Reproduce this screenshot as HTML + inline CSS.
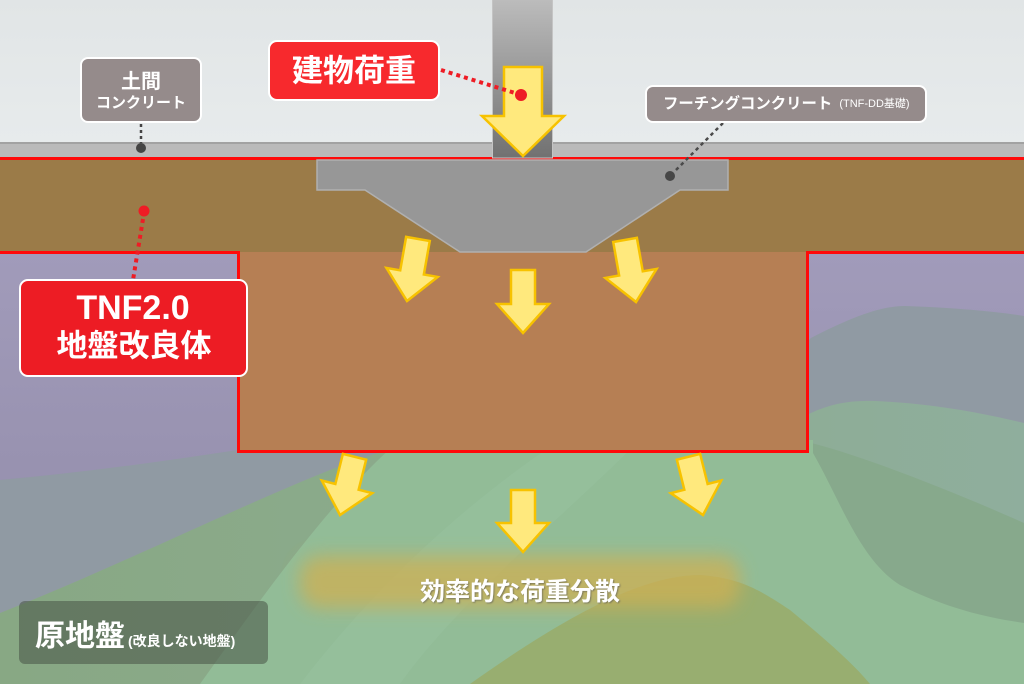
<!DOCTYPE html>
<html><head><meta charset="utf-8"><style>
html,body{margin:0;padding:0;background:#e3e7e8;}
svg{display:block;}
text{font-family:"Liberation Sans","Noto Sans CJK JP",sans-serif;font-weight:bold;}
</style></head><body>
<svg width="1024" height="684" viewBox="0 0 1024 684" xmlns="http://www.w3.org/2000/svg">
<defs>
<linearGradient id="sky" x1="0" y1="0" x2="0" y2="1"><stop offset="0" stop-color="#e1e5e6"/><stop offset="1" stop-color="#e7ebec"/></linearGradient>
<linearGradient id="col" x1="0" y1="0" x2="0" y2="1"><stop offset="0" stop-color="#bcbcbc"/><stop offset="1" stop-color="#717171"/></linearGradient>
<linearGradient id="purp" x1="0" y1="0" x2="0" y2="1"><stop offset="0" stop-color="#a19bba"/><stop offset="1" stop-color="#8f89a6"/></linearGradient>
<linearGradient id="l3" x1="0" y1="0" x2="1" y2="0"><stop offset="0" stop-color="#88a884"/><stop offset="0.5" stop-color="#8cab8e"/><stop offset="1" stop-color="#8fae9d"/></linearGradient>
<filter id="blur" x="-20%" y="-50%" width="140%" height="200%"><feGaussianBlur stdDeviation="9"/></filter>
<filter id="tsh" x="-10%" y="-30%" width="120%" height="160%"><feDropShadow dx="1" dy="1" stdDeviation="0.8" flood-color="#555" flood-opacity="0.6"/></filter>
</defs>

<rect x="0" y="0" width="1024" height="142" fill="url(#sky)"/>
<rect x="0" y="142" width="1024" height="15" fill="#bababa"/>
<rect x="0" y="142" width="1024" height="2" fill="#a2a2a2"/>
<rect x="0" y="157" width="1024" height="3" fill="#ff0a0a"/>
<rect x="0" y="160" width="1024" height="93" fill="#9b7b48"/>

<rect x="0" y="253" width="1024" height="431" fill="url(#purp)"/>
<path d="M0,480 C90,472 190,458 300,440 L760,440 C790,420 800,345 811,338 C850,318 880,306 905,306 C960,308 1000,312 1024,316 L1024,684 L0,684 Z" fill="#909aa3"/>
<path d="M0,613 C110,570 230,510 330,470 C370,455 400,445 430,440 L790,440 C800,425 805,415 811,413 C830,404 850,400 875,401 C940,404 990,415 1024,423 L1024,684 L0,684 Z" fill="url(#l3)"/>
<path d="M811,443 C860,455 950,490 1024,523 L1024,684 L811,684 Z" fill="#87a98c"/>
<path d="M400,440 L813,440 L813,453 C840,500 860,560 900,585 C950,610 990,618 1024,623 L1024,684 L200,684 C260,600 330,500 400,440 Z" fill="#92bc97"/>
<path d="M300,684 C380,580 470,500 560,440 L640,440 C560,520 460,600 400,684 Z" fill="#98c29f" opacity="0.5"/>
<path d="M470,684 C560,620 640,575 700,575 C740,578 760,590 790,610 C820,635 850,660 870,684 Z" fill="#98ae70"/>
<rect x="300" y="556" width="440" height="52" rx="20" fill="#cfb052" opacity="0.75" filter="url(#blur)"/>

<rect x="237" y="252" width="572" height="201" fill="#b67f54"/>
<path d="M0,252.5 L238.5,252.5 L238.5,451.5 L807.5,451.5 L807.5,252.5 L1024,252.5" fill="none" stroke="#ff0a0a" stroke-width="3"/>

<path d="M317,160 L728,160 L728,190 L680,190 L586,252 L460,252 L365,190 L317,190 Z" fill="#979797" stroke="#b0b0b0" stroke-width="1.5"/>
<rect x="492" y="0" width="61" height="158" fill="url(#col)"/>
<rect x="492.5" y="-1" width="60" height="159" fill="none" stroke="#c4c4c4" stroke-width="1"/>

<g transform="translate(523,156)">
<polygon points="-19,-89 19,-89 19,-40 41,-40 0,0 -41,-40 -19,-40" fill="#ffe97d" stroke="#f7c200" stroke-width="2.5"/>
</g>

<g fill="#ffe97d" stroke="#f7c200" stroke-width="2.5">
<polygon transform="translate(407,301) rotate(10)" points="-12,-63 12,-63 12,-29 26,-29 0,0 -26,-29 -12,-29"/>
<polygon transform="translate(523,333)" points="-12,-63 12,-63 12,-29 26,-29 0,0 -26,-29 -12,-29"/>
<polygon transform="translate(636,302) rotate(-10)" points="-12,-63 12,-63 12,-29 26,-29 0,0 -26,-29 -12,-29"/>
<polygon transform="translate(340,515) rotate(14)" points="-12,-60 12,-60 12,-29 26,-29 0,0 -26,-29 -12,-29"/>
<polygon transform="translate(523,552)" points="-12,-62 12,-62 12,-29 26,-29 0,0 -26,-29 -12,-29"/>
<polygon transform="translate(703,515) rotate(-14)" points="-12,-60 12,-60 12,-29 26,-29 0,0 -26,-29 -12,-29"/>
</g>

<line x1="441" y1="70" x2="515" y2="93" stroke="#ee1c25" stroke-width="4" stroke-dasharray="4 4"/>
<circle cx="521" cy="95" r="6" fill="#ee1c25"/>
<line x1="141" y1="124" x2="141" y2="143" stroke="#444" stroke-width="2.5" stroke-dasharray="3 3"/>
<circle cx="141" cy="148" r="5" fill="#444"/>
<line x1="723" y1="123" x2="674" y2="172" stroke="#4a4a4a" stroke-width="2.5" stroke-dasharray="3.5 3.5"/>
<circle cx="670" cy="176" r="5" fill="#474747"/>
<circle cx="144" cy="211" r="5.5" fill="#ee1c25"/>
<line x1="143" y1="219" x2="133" y2="280" stroke="#ee1c25" stroke-width="4" stroke-dasharray="4 4"/>

<rect x="269" y="41" width="170" height="59" rx="8" fill="#f7292d" stroke="#fff" stroke-width="2"/>
<text x="354" y="71" font-size="31" fill="#fff" text-anchor="middle" dominant-baseline="central">建物荷重</text>

<rect x="81" y="58" width="120" height="64" rx="7" fill="#958b8b" stroke="#fff" stroke-width="2"/>
<text x="141" y="82" font-size="20" fill="#fff" text-anchor="middle" dominant-baseline="central">土間</text>
<text x="141" y="103" font-size="15" fill="#fff" text-anchor="middle" dominant-baseline="central">コンクリート</text>

<rect x="646" y="86" width="280" height="36" rx="7" fill="#958b8b" stroke="#fff" stroke-width="2"/>
<text x="663" y="104" font-size="15.4" fill="#fff" dominant-baseline="central">フーチングコンクリート<tspan font-size="11" font-weight="normal" dx="7">(TNF-DD基礎)</tspan></text>

<rect x="20" y="280" width="227" height="96" rx="8" fill="#ed1c24" stroke="#fff" stroke-width="2"/>
<text x="133" y="308" font-size="34" fill="#fff" text-anchor="middle" dominant-baseline="central">TNF2.0</text>
<text x="134" y="346" font-size="31" fill="#fff" text-anchor="middle" dominant-baseline="central">地盤改良体</text>

<rect x="19" y="601" width="249" height="63" rx="6" fill="#475246" opacity="0.55"/>
<text x="35" y="646" font-size="30" fill="#fff">原地盤<tspan font-size="14" dx="3">(改良しない地盤)</tspan></text>

<text x="520" y="592" font-size="25" fill="#fff" text-anchor="middle" dominant-baseline="central" filter="url(#tsh)">効率的な荷重分散</text>
</svg>
</body></html>
